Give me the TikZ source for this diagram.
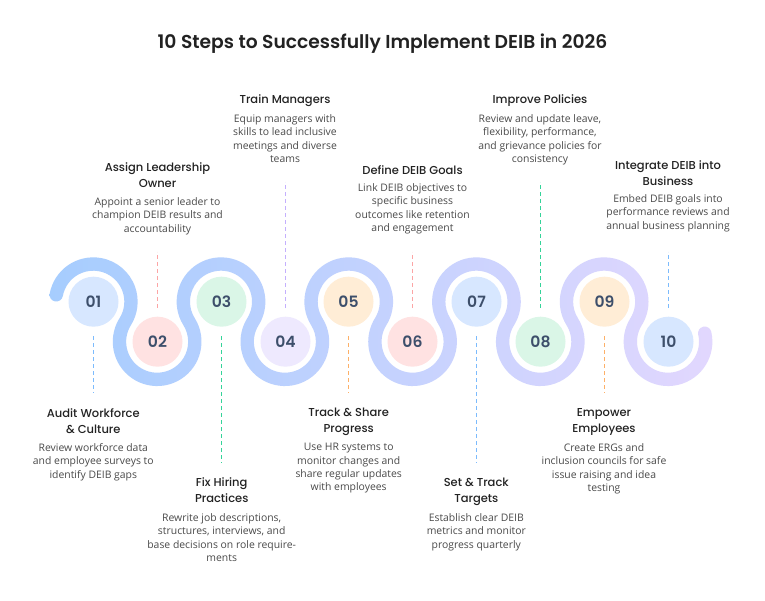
\documentclass[tikz,border=0pt]{standalone}
\usepackage{fontspec}
\setmainfont{Open Sans}
\newfontfamily\ttlfont{Poppins SemiBold}
\newfontfamily\hdfont{Poppins Medium}
\newfontfamily\numfont{Poppins SemiBold}
\definecolor{ink}{HTML}{222222}
\definecolor{soft}{HTML}{4A4A4A}
\definecolor{numc}{HTML}{3D4F6B}
\definecolor{ribA}{HTML}{A6CDFE}
\definecolor{ribB}{HTML}{C6D2FE}
\definecolor{ribC}{HTML}{E2D7FE}
\definecolor{cblue}{HTML}{D7E7FF}
\definecolor{cred}{HTML}{FFE2E2}
\definecolor{cgreen}{HTML}{DAF6E7}
\definecolor{cviolet}{HTML}{EEE9FE}
\definecolor{corange}{HTML}{FFEDD6}
\definecolor{lblue}{HTML}{7CBBFD}
\definecolor{lred}{HTML}{FCA5A5}
\definecolor{lgreen}{HTML}{34D399}
\definecolor{lviolet}{HTML}{C4B0FD}
\definecolor{lorange}{HTML}{FDB068}
\tikzset{
  x=1pt,y=1pt,
  disc/.style={circle,minimum size=50pt,inner sep=0pt,text=numc,font=\numfont\fontsize{15.6}{16}\selectfont},
  conn/.style={line width=1.3pt,dash pattern=on 4pt off 3pt},
  headtext/.style={anchor=north,inner sep=0pt,align=center,yshift=-2.2pt,text=ink,font=\hdfont\fontsize{11.5}{15.8}\selectfont},
  bodytext/.style={anchor=north,inner sep=0pt,align=center,yshift=-2.3pt,text=soft,font=\fontsize{10.4}{13.35}\selectfont},
}
\def\ra{44.35}
\def\rb{31.0}
\begin{document}
\begin{tikzpicture}
\useasboundingbox (0,0) rectangle (765,600);
\fill[white] (0,0) rectangle (765,600);
% ribbon
\shade[left color=ribA,middle color=ribB,right color=ribC]
  ({93.3+\ra*cos(169.5)},{298.3+\ra*sin(169.5)})
  arc[start angle=169.5,end angle=-32.06,radius=\ra]
  \foreach \k in {1,2,3,4}{
    arc[start angle=147.94,end angle=392.06,radius=\rb]
    arc[start angle=212.06,end angle=-32.06,radius=\ra]
  }
  arc[start angle=147.94,end angle=373,radius=\rb]
  arc[start angle=193,end angle=13,radius=6.67]
  arc[start angle=373,end angle=147.94,radius=\ra]
  \foreach \k in {1,2,3,4}{
    arc[start angle=-32.06,end angle=212.06,radius=\rb]
    arc[start angle=392.06,end angle=147.94,radius=\ra]
  }
  arc[start angle=-32.06,end angle=169.5,radius=\rb]
  arc[start angle=349.5,end angle=169.5,radius=6.67]
  -- cycle;
% discs
\node[disc,fill=cblue]   (c01) at (93.5,298.3)  {01};
\node[disc,fill=cred]    (c02) at (157.5,258.3) {02};
\node[disc,fill=cgreen]  (c03) at (221.5,298.3) {03};
\node[disc,fill=cviolet] (c04) at (285.5,258.3) {04};
\node[disc,fill=corange] (c05) at (348.5,298.3) {05};
\node[disc,fill=cred]    (c06) at (412.5,258.3) {06};
\node[disc,fill=cblue]   (c07) at (476.5,298.3) {07};
\node[disc,fill=cgreen]  (c08) at (540.5,258.3) {08};
\node[disc,fill=corange] (c09) at (604.5,298.3) {09};
\node[disc,fill=cblue]   (c10) at (668.5,258.3) {10};
% connector free ends
\coordinate (e01) at (93.5,207);
\coordinate (e02) at (157.5,348);
\coordinate (e03) at (221.5,137);
\coordinate (e04) at (285.5,418);
\coordinate (e05) at (348.5,207);
\coordinate (e06) at (412.5,348);
\coordinate (e07) at (476.5,137);
\coordinate (e08) at (540.5,418);
\coordinate (e09) at (604.5,207);
\coordinate (e10) at (668.5,348);
\draw[conn,lblue,shorten <=9.5pt]   (c01.south) -- (e01);
\draw[conn,lred,shorten <=8.5pt]    (c02.north) -- (e02);
\draw[conn,lgreen,shorten <=9.5pt]  (c03.south) -- (e03);
\draw[conn,lviolet,shorten <=8.5pt] (c04.north) -- (e04);
\draw[conn,lorange,shorten <=9.5pt] (c05.south) -- (e05);
\draw[conn,lred,shorten <=8.5pt]    (c06.north) -- (e06);
\draw[conn,lblue,shorten <=9.5pt]   (c07.south) -- (e07);
\draw[conn,lgreen,shorten <=8.5pt]  (c08.north) -- (e08);
\draw[conn,lorange,shorten <=9.5pt] (c09.south) -- (e09);
\draw[conn,lblue,shorten <=8.5pt]   (c10.north) -- (e10);
% title
\node[inner sep=0pt,text=ink,font=\ttlfont\fontsize{18.7}{20}\selectfont] (ttl) at (382.5,556.5) {10 Steps to Successfully Implement DEIB in 2026};
% labels
\node[headtext] (h04) at (285,507.5) {Train Managers};
\node[bodytext] (b04) at (285,488) {Equip managers with\\skills to lead inclusive\\meetings and diverse\\teams};
\node[headtext] (h02) at (157.5,439.5) {Assign Leadership\\Owner};
\node[bodytext] (b02) at (157.5,405) {Appoint a senior leader to\\champion DEIB results and\\accountability};
\node[headtext] (h06) at (412.5,436.5) {Define DEIB Goals};
\node[bodytext] (b06) at (412.5,419) {Link DEIB objectives to\\specific business\\outcomes like retention\\and engagement};
\node[headtext] (h08) at (540,507.5) {Improve Policies};
\node[bodytext] (b08) at (540,488) {Review and update leave,\\flexibility, performance,\\and grievance policies for\\consistency};
\node[headtext] (h10) at (668,442) {Integrate DEIB into\\Business};
\node[bodytext] (b10) at (668,408) {Embed DEIB goals into\\performance reviews and\\annual business planning};
\node[headtext] (h01) at (93.3,194) {Audit Workforce\\\& Culture};
\node[bodytext] (b01) at (93.3,159) {Review workforce data\\and employee surveys to\\identify DEIB gaps};
\node[headtext] (h03) at (221.7,124.5) {Fix Hiring\\Practices};
\node[bodytext] (b03) at (221.7,89) {Rewrite job descriptions,\\structures, interviews, and\\base decisions on role require-\\ments};
\node[headtext] (h05) at (348.7,194) {Track \& Share\\Progress};
\node[bodytext] (b05) at (348.7,159) {Use HR systems to\\monitor changes and\\share regular updates\\with employees};
\node[headtext] (h07) at (476.3,124) {Set \& Track\\Targets};
\node[bodytext] (b07) at (476.3,89) {Establish clear DEIB\\metrics and monitor\\progress quarterly};
\node[headtext] (h09) at (604,194) {Empower\\Employees};
\node[bodytext] (b09) at (604,159) {Create ERGs and\\inclusion councils for safe\\issue raising and idea\\testing};
\end{tikzpicture}
\end{document}
